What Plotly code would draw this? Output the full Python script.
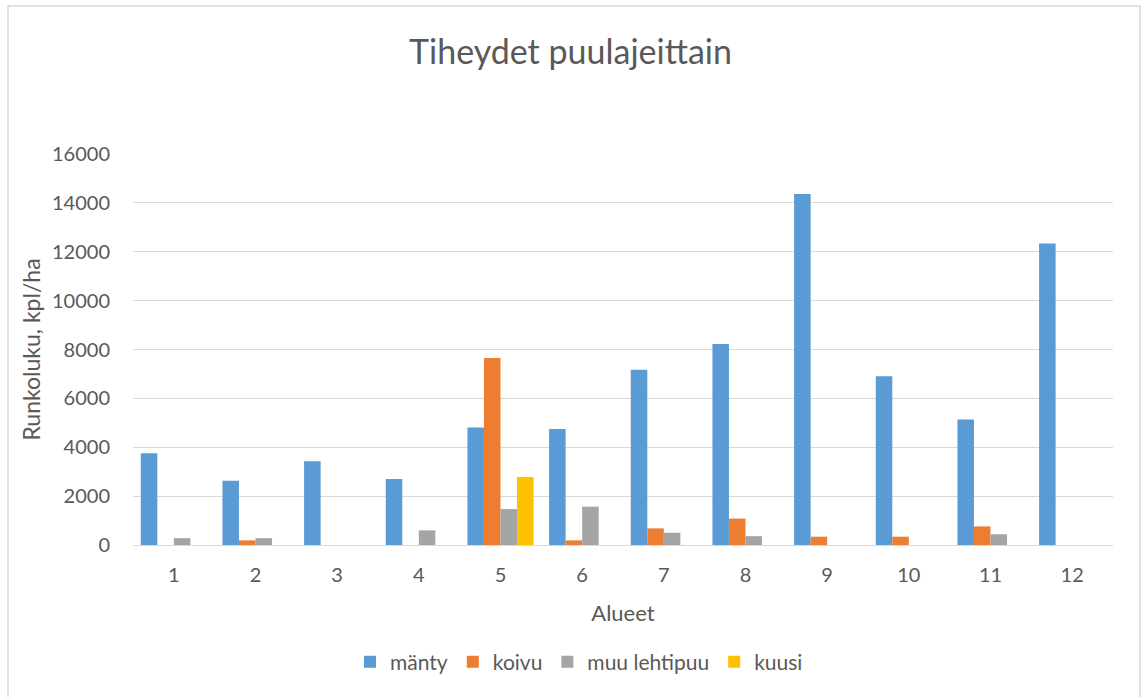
import plotly.graph_objects as go

categories = ["1", "2", "3", "4", "5", "6", "7", "8", "9", "10", "11", "12"]
series_names = ["mänty", "koivu", "muu lehtipuu", "kuusi"]
manty = [3750, 2630, 3430, 2700, 4810, 4750, 7170, 8220, 14360, 6910, 5140, 12340]
koivu = [0, 190, 0, 0, 7650, 190, 680, 1080, 340, 340, 760, 0]
muu_lehtipuu = [280, 280, 0, 600, 1470, 1570, 500, 360, 0, 0, 440, 0]
kuusi = [0, 0, 0, 0, 2780, 0, 0, 0, 0, 0, 0, 0]
y_ticks = [0, 2000, 4000, 6000, 8000, 10000, 12000, 14000, 16000]
y_tick_labels = ["0", "2000", "4000", "6000", "8000", "10000", "12000", "14000", "16000"]

colors = ["#5B9BD5", "#ED7D31", "#A5A5A5", "#FFC000"]
values = [manty, koivu, muu_lehtipuu, kuusi]

W, H = 1141, 697
L, R, T, B = 133, 28, 154, 152
pw, ph = W - L - R, H - T - B

fig = go.Figure()
for name, vals, col in zip(series_names, values, colors):
    fig.add_trace(go.Bar(x=categories, y=vals, name=name, marker_color=col,
                         marker_line_width=0))

font_fam = "Lato, Open Sans, sans-serif"
txt = "#595959"

fig.update_layout(
    width=W, height=H,
    margin=dict(l=L, r=R, t=T, b=B, autoexpand=False),
    paper_bgcolor="white", plot_bgcolor="white",
    barmode="group", bargap=0.19, bargroupgap=0.0,
    font=dict(family=font_fam, color=txt, size=20),
    title=dict(text="Tiheydet puulajeittain", x=0.5, xanchor="center",
               y=1 - 52 / H, yanchor="middle",
               font=dict(size=34, color=txt, family=font_fam)),
    xaxis=dict(showgrid=False, showline=True, linecolor="#D9D9D9", linewidth=1,
               ticks="", tickfont=dict(size=20, color=txt), ticklabelstandoff=12,
               title=dict(text="Alueet", font=dict(size=22, color=txt), standoff=20)),
    yaxis=dict(range=[0, 16000], tickvals=y_ticks, ticktext=y_tick_labels,
               showgrid=True, gridcolor="#D9D9D9",
               gridwidth=1, zeroline=False, showline=False, ticks="",
               tickfont=dict(size=20, color=txt), ticklabelstandoff=22,
               title=dict(text="Runkoluku, kpl/ha", font=dict(size=23, color=txt), standoff=4)),
    legend=dict(orientation="h", x=(350 - L) / pw, xanchor="left", y=(545 - 662) / ph,
                yanchor="middle", font=dict(size=21, color=txt), itemwidth=30,
                traceorder="normal"),
    showlegend=True,
)

fig.add_shape(type="rect", xref="paper", yref="paper",
              x0=(8 - L) / pw, x1=(1140 - L) / pw,
              y0=(545 - 700) / ph, y1=(545 - 6) / ph,
              line=dict(color="#D9D9D9", width=1.5), fillcolor="rgba(0,0,0,0)", layer="below")

fig.write_html("out.html")
